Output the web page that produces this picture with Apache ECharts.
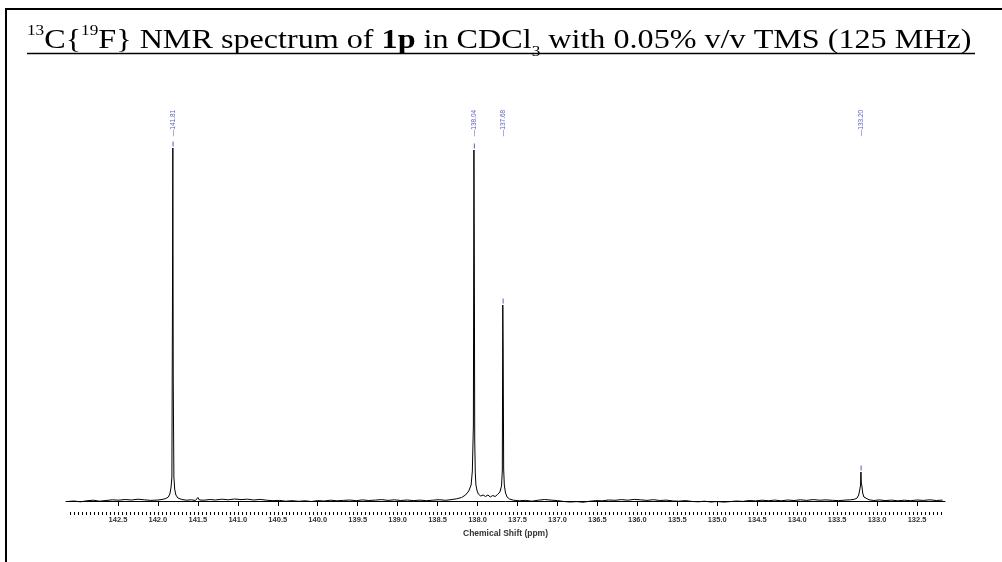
<!DOCTYPE html>
<html lang="en">
<head>
  <meta charset="UTF-8">
  <title>13C{19F} NMR of 1p</title>
  <style>
    html, body { margin: 0; padding: 0; background: #fff; }
    #main { width: 1002px; height: 562px; }
  </style>
</head>
<body>
<div id="main"></div>
<script src="https://cdn.jsdelivr.net/npm/echarts@6/dist/echarts.min.js"></script>
<script>
  // axis labels (ppm)
  const tickLabels = [142.5, 142.0, 141.5, 141.0, 140.5, 140.0, 139.5, 139.0, 138.5, 138.0,
    137.5, 137.0, 136.5, 136.0, 135.5, 135.0, 134.5, 134.0, 133.5, 133.0, 132.5];

  // picked peaks and their heights
  const peakShifts = [141.81, 138.04, 137.68, 133.20];
  const peakTops = [353, 351, 196, 29];

  // spectrum trace [ppm, intensity]
  const spectrum = [
    [143.13, -0.5], [143.05, 0], [142.97, -0.8], [142.89, 0.2], [142.81, 0.8], [142.73, -0.2],
    [142.65, 0.5], [142.57, 1.2], [142.49, 0.8], [142.41, 1.5], [142.33, 1.0], [142.25, 1.8],
    [142.17, 1.2], [142.09, 0.6], [142.01, 0.9], [141.95, 1.5], [141.90, 2.5], [141.87, 4],
    [141.85, 7], [141.835, 14], [141.825, 24], [141.818, 190], [141.813, 353], [141.808, 120],
    [141.80, 24], [141.79, 12], [141.775, 6], [141.75, 3], [141.70, 1.5], [141.64, 0.8],
    [141.58, 1.2], [141.53, 0.5], [141.50, 3.5], [141.48, 1], [141.42, 0.8], [141.35, 1.5],
    [141.28, 1], [141.20, 1.8], [141.12, 1.2], [141.04, 2], [140.96, 1.4], [140.88, 1.8],
    [140.80, 1], [140.72, 1.6], [140.64, 0.8], [140.56, 0.3], [140.48, 0.6], [140.40, -0.2],
    [140.32, 0.3], [140.24, -0.3], [140.16, 0.2], [140.08, -0.5], [140.00, 0.4], [139.92, 0],
    [139.84, 0.8], [139.76, 0.2], [139.68, 0.6], [139.60, 1], [139.52, 0.3], [139.44, 1.1],
    [139.36, 0.5], [139.28, 0.9], [139.20, 1.4], [139.12, 0.6], [139.04, 1.2], [138.96, 0.5],
    [138.88, 1], [138.80, 0.4], [138.72, 0.9], [138.64, 0.3], [138.56, 0.8], [138.48, 1.3],
    [138.40, 0.7], [138.32, 1.5], [138.26, 2.2], [138.20, 3.5], [138.15, 6], [138.11, 10],
    [138.08, 16], [138.065, 30], [138.052, 75], [138.045, 351], [138.04, 240], [138.035, 60],
    [138.028, 28], [138.02, 16], [138.005, 10], [137.99, 7], [137.96, 5], [137.93, 6],
    [137.90, 4.5], [137.87, 6], [137.84, 4], [137.81, 5.5], [137.78, 4.5], [137.75, 6.5],
    [137.72, 9], [137.70, 15], [137.69, 30], [137.684, 196], [137.679, 150], [137.673, 32],
    [137.665, 16], [137.65, 8], [137.63, 4], [137.60, 2], [137.55, 0.8], [137.48, 0.2],
    [137.40, 0.6], [137.32, -0.2], [137.24, 0.8], [137.16, 1.5], [137.08, 0.9], [137.00, 0.4],
    [136.92, -0.5], [136.84, -1], [136.76, -0.6], [136.68, -1.2], [136.60, -0.3], [136.52, 0.4],
    [136.44, 0.2], [136.36, 1], [136.28, 0.7], [136.20, 1.4], [136.12, 0.8], [136.04, 1.6],
    [135.96, 1.2], [135.88, 0.6], [135.80, 1.3], [135.72, 0.5], [135.64, 0.9], [135.56, 0.1],
    [135.48, -0.2], [135.40, 0.4], [135.32, -0.4], [135.24, -0.8], [135.16, -0.2], [135.08, -1],
    [135.00, -0.5], [134.92, -1.1], [134.84, -0.6], [134.76, 0], [134.68, -0.4], [134.60, 0.5],
    [134.52, 0.1], [134.44, 0.8], [134.36, 0.3], [134.28, 0.9], [134.20, 0.2], [134.12, 1],
    [134.04, 0.5], [133.96, 1.2], [133.88, 0.6], [133.80, 1.4], [133.72, 0.8], [133.64, 1.1],
    [133.56, 0.7], [133.48, 0.4], [133.40, 0.9], [133.33, 1.2], [133.28, 1.8], [133.25, 3],
    [133.23, 6], [133.215, 12], [133.207, 16], [133.202, 29], [133.197, 18], [133.19, 15],
    [133.18, 8], [133.165, 4], [133.14, 2], [133.10, 1.2], [133.04, 0.5], [132.97, 1.1],
    [132.90, 0.4], [132.82, 0.9], [132.74, 0.2], [132.66, 0.8], [132.58, 0.3], [132.50, 1],
    [132.42, 0.6], [132.34, 1.2], [132.26, 0.5], [132.18, 0.9]
  ];

  // minor ticks every 0.05 ppm
  let minorTicks = [];
  for (let i = 2644; i <= 2862; i++) minorTicks.push(Math.round(i * 5) / 100);

  const labelLevel = 378;
  const peakBlue = '#3030b0';
  const serif = 'Liberation Serif';

  let chart = echarts.init(document.getElementById('main'), null, { renderer: 'canvas' });

  let option = {
    animation: false,
    backgroundColor: '#fff',
    graphic: [
      { type: 'line', shape: { x1: 5, y1: 9, x2: 1002, y2: 9 }, style: { stroke: '#000', lineWidth: 2 } },
      { type: 'line', shape: { x1: 6, y1: 8, x2: 6, y2: 562 }, style: { stroke: '#000', lineWidth: 2 } },
      {
        // title, stretched to the justified width of the original line
        type: 'text',
        x: 27,
        y: 18,
        scaleX: 1.148,
        style: {
          text: '{sup|13}C{{sup|19}F} NMR spectrum of {b|1p} in CDCl{sub|3} with 0.05% v/v TMS (125 MHz)',
          fontFamily: serif,
          fontSize: 28,
          lineHeight: 46,
          fill: '#000',
          rich: {
            sup: { fontFamily: serif, fontSize: 15, verticalAlign: 'top', padding: [6, 0, 0, 0], fill: '#000' },
            sub: { fontFamily: serif, fontSize: 15, verticalAlign: 'bottom', padding: [0, 0, 4, 0], fill: '#000' },
            b: { fontFamily: serif, fontSize: 28, fontWeight: 'bold', fill: '#000' }
          }
        }
      },
      { type: 'line', shape: { x1: 27, y1: 53.5, x2: 975, y2: 53.5 }, style: { stroke: '#000', lineWidth: 1.5 } }
    ],
    grid: { left: 66, right: 57, top: 100, bottom: 50 },
    xAxis: [{
      type: 'value',
      inverse: true,
      min: 132.15,
      max: 143.15,
      splitLine: { show: false },
      axisLine: { lineStyle: { color: '#000', width: 1 } },
      axisTick: { customValues: tickLabels, length: 5, lineStyle: { color: '#000' } },
      axisLabel: {
        customValues: tickLabels,
        formatter: v => v.toFixed(1),
        fontFamily: 'Liberation Sans',
        fontSize: 7.5,
        fontWeight: 'bold',
        color: '#333',
        margin: 4
      },
      name: 'Chemical Shift (ppm)',
      nameLocation: 'middle',
      nameGap: 13,
      nameTextStyle: { fontFamily: 'Liberation Sans', fontSize: 8.5, fontWeight: 'bold', color: '#333' }
    }, {
      type: 'value',
      inverse: true,
      min: 132.15,
      max: 143.15,
      position: 'bottom',
      splitLine: { show: false },
      axisLine: { show: false },
      axisLabel: { show: false },
      axisTick: { customValues: minorTicks, length: 3, lineStyle: { color: '#000' } }
    }],
    yAxis: {
      type: 'value',
      min: -11,
      max: 401,
      show: false
    },
    series: [{
      type: 'line',
      data: spectrum,
      showSymbol: false,
      symbol: 'none',
      sampling: null,
      lineStyle: { color: '#000', width: 1 }
    }, {
      type: 'scatter',
      symbolSize: 0,
      data: peakShifts.map(p => [p, labelLevel]),
      label: {
        show: true,
        position: 'inside',
        rotate: 90,
        formatter: p => '\u2014' + p.value[0].toFixed(2),
        fontFamily: 'Liberation Sans',
        fontSize: 6.5,
        color: peakBlue
      }
    }, {
      type: 'scatter',
      symbol: 'rect',
      symbolSize: [1, 5],
      itemStyle: { color: peakBlue },
      data: peakShifts.map((p, i) => [p, peakTops[i] + 4])
    }]
  };

  chart.setOption(option);
</script>
</body>
</html>
